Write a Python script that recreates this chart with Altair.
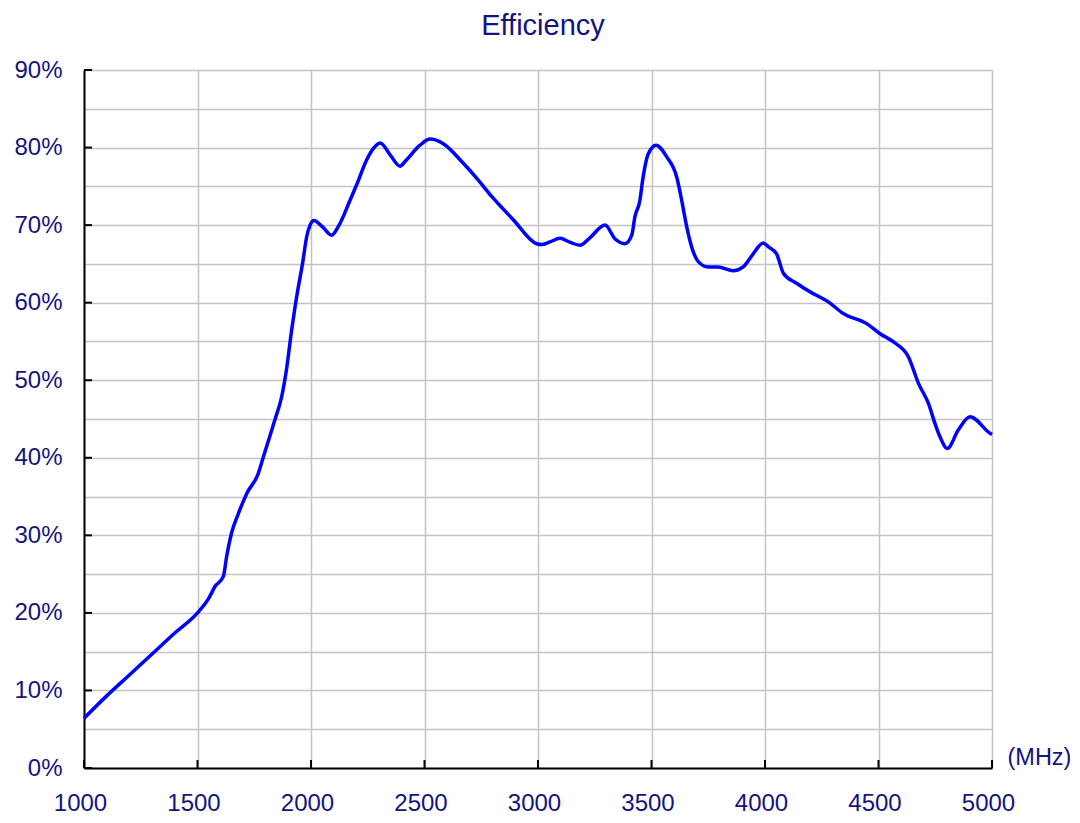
import altair as alt
import pandas as pd

freq = [1000, 1100, 1200, 1300, 1400, 1500, 1550, 1577, 1614, 1628, 1650, 1680, 1717,
        1768, 1790, 1841, 1871, 1890, 1915, 1937, 1963, 1981, 1996, 2012, 2050, 2091, 2120,
        2172, 2201, 2245, 2275, 2305, 2350, 2392, 2420, 2480, 2524, 2583, 2670, 2737, 2796,
        2891, 2994, 3015, 3050, 3097, 3140, 3185, 3230, 3295, 3340, 3383, 3413, 3427, 3449,
        3461, 3486, 3520, 3567, 3611, 3633, 3655, 3681, 3706, 3750, 3794, 3860, 3904, 3948,
        3992, 4015, 4051, 4081, 4139, 4198, 4279, 4345, 4448, 4507, 4573, 4632, 4676, 4720,
        4749, 4771, 4803, 4852, 4903, 4994, 5000]
eff = [6.4, 9.3, 12.0, 14.7, 17.4, 20.0, 21.9, 23.4, 24.7, 27.2, 30.3, 32.8, 35.4,
       38.0, 40.1, 44.9, 47.9, 51.0, 56.5, 60.8, 65.1, 68.5, 70.0, 70.6, 69.8, 68.7, 69.8,
       73.2, 75.2, 78.4, 79.9, 80.6, 79.0, 77.6, 78.4, 80.3, 81.1, 80.5, 78.0, 75.8, 73.7,
       70.7, 67.6, 67.5, 67.8, 68.3, 67.8, 67.4, 68.4, 70.0, 68.2, 67.6, 68.7, 71.1, 73.2,
       75.8, 79.2, 80.3, 78.8, 76.2, 73.2, 69.8, 66.8, 65.3, 64.6, 64.6, 64.1, 64.6, 66.3,
       67.7, 67.2, 66.3, 63.8, 62.5, 61.4, 60.1, 58.6, 57.3, 56.0, 54.8, 53.0, 49.6, 47.0,
       44.4, 42.7, 41.2, 43.6, 45.3, 43.1, 43.0]

y_grid = list(range(0, 95, 5))
y_ticks = list(range(0, 100, 10))
x_ticks = list(range(1000, 5500, 500))
title_text = ["Efficiency"]

navy = "#141480"
font = "Liberation Sans"

df = pd.DataFrame({"f": freq, "e": eff})
xs = alt.Scale(domain=[1000, 5000], nice=False, zero=False)
ys = alt.Scale(domain=[0, 90], nice=False)

x_axis = alt.Axis(
    values=x_ticks, format="d", grid=True, gridColor="#c4c4c4", gridWidth=1.5,
    domainColor="#000000", domainWidth=2, ticks=False, tickSize=0,
    labelFont=font, labelFontSize=24, labelColor=navy, labelPadding=23, labelOffset=-4,
    labelFlush=False, title="(MHz)", titleFont=font, titleFontSize=23.5,
    titleFontWeight="normal", titleColor=navy, titleAlign="left",
    titleBaseline="alphabetic", titleX=923, titleY=-4)
y_axis = alt.Axis(
    values=y_grid, labelExpr="datum.value % 10 == 0 ? datum.value + '%' : ''",
    grid=True, gridColor="#c4c4c4", gridWidth=1.5,
    domainColor="#000000", domainWidth=2, ticks=False, tickSize=0,
    labelFont=font, labelFontSize=24, labelColor=navy, labelPadding=22,
    labelFlush=False, title=None)

line = alt.Chart(df).mark_line(color="#0000ff", strokeWidth=3.5, interpolate="monotone").encode(
    x=alt.X("f:Q", scale=xs, axis=x_axis),
    y=alt.Y("e:Q", scale=ys, axis=y_axis),
)

yt = alt.Chart(pd.DataFrame({"e": y_ticks})).mark_rule(color="#000000", strokeWidth=2).encode(
    y=alt.Y("e:Q", scale=ys, axis=y_axis), x=alt.value(0), x2=alt.value(8))
xt = alt.Chart(pd.DataFrame({"f": x_ticks})).mark_rule(color="#000000", strokeWidth=2).encode(
    x=alt.X("f:Q", scale=xs, axis=x_axis), y=alt.value(698), y2=alt.value(690))

title = alt.Chart(pd.DataFrame({"t": title_text})).mark_text(
    font=font, fontSize=29, color=navy, align="center", baseline="alphabetic"
).encode(text="t:N", x=alt.value(459), y=alt.value(-35))

chart = alt.layer(line, yt, xt, title).properties(
    width=908, height=698,
    autosize=alt.AutoSizeParams(type="none"),
    padding={"left": 76, "top": 62, "right": 78, "bottom": 47},
).configure_view(stroke="#8a8a8a", strokeWidth=1.5).configure(background="white")

chart.save("out.html", embed_options={"renderer": "svg", "actions": False})
